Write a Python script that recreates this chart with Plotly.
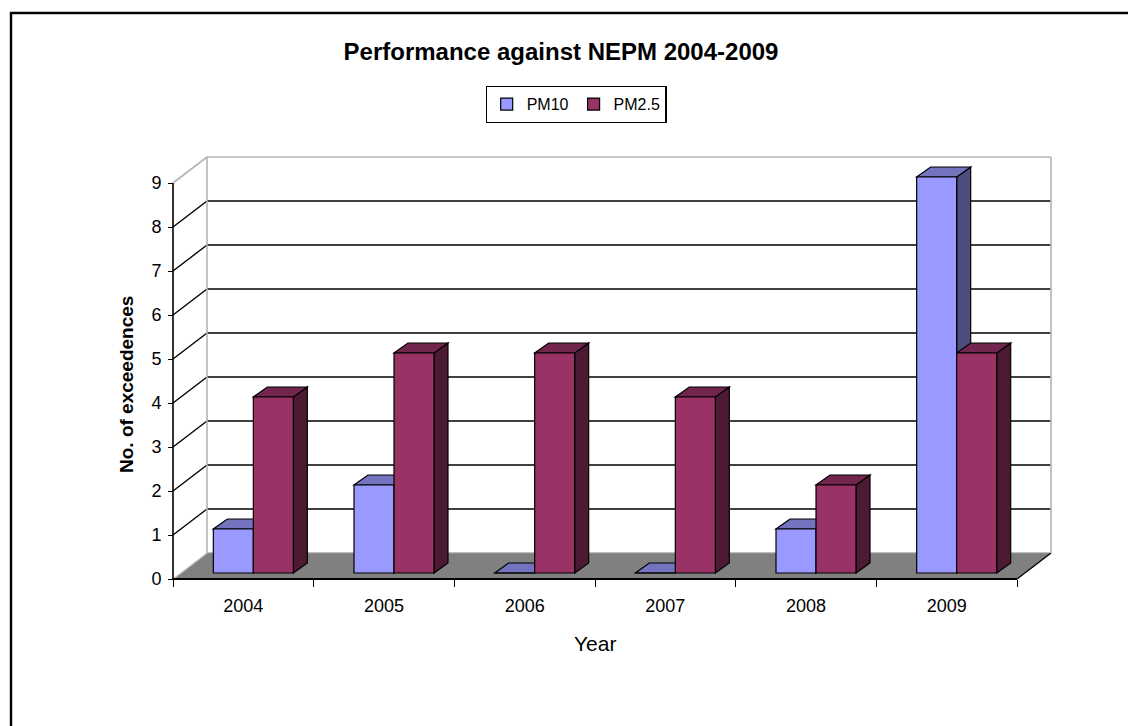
import plotly.graph_objects as go

# ---------------- data ----------------
years = [2004, 2005, 2006, 2007, 2008, 2009]
pm10 = [1, 2, 0, 0, 1, 9]
pm25 = [4, 5, 5, 4, 2, 5]
y_ticks = [0, 1, 2, 3, 4, 5, 6, 7, 8, 9]
series_names = ["PM10", "PM2.5"]
chart_title = "Performance against NEPM 2004-2009"
x_title = "Year"
y_title = "No. of exceedences"

# ---------------- geometry (pixels) ----------------
W, H = 1128, 726
PL, PR, PT, PB = 160, 1062, 148, 592          # plot area
FX0, FX1 = 173, 1017                           # front x extent
FY0, FY9 = 579, 183                            # front y of 0 and of top tick
XPX = (FX1 - FX0) / len(years)
YPX = (FY0 - FY9) / (y_ticks[-1] - y_ticks[0])


def ux(px):
    return px / XPX


def uy(px):
    return px / YPX


def pxx(px):
    return (px - PL) / (PR - PL)


def pyy(py):
    return (PB - py) / (PB - PT)


XL = years[0] - 0.5
XR = years[-1] + 0.5
YT = y_ticks[-1]
x_range = [XL - ux(FX0 - PL), XL + ux(PR - FX0)]
y_range = [-uy(PB - FY0), uy(FY0 - PT)]

WDX, WDY = ux(34), uy(26)      # wall depth
BW = ux(40)                    # bar width
BDX, BDY = ux(14), uy(10)      # bar depth
BFX, BFY = ux(10), uy(6)       # bar front offset from front plane

colors = {
    "PM10": ("#9999FF", "#7373BF", "#4D4D80"),
    "PM2.5": ("#993366", "#73264D", "#4D1A33"),
}
GRAY = "#B4B4B4"

shapes = []


def line(x0, y0, x1, y1, color, width, layer="between"):
    shapes.append(dict(type="line", xref="x", yref="y", x0=x0, y0=y0, x1=x1, y1=y1,
                       line=dict(color=color, width=width), layer=layer))


def poly(pts, fill, lc="black", lw=1.2, layer="between"):
    d = "M " + " L ".join(f"{a},{b}" for a, b in pts) + " Z"
    shapes.append(dict(type="path", xref="x", yref="y", path=d, fillcolor=fill,
                       line=dict(color=lc, width=lw), layer=layer))


# outer chart border: only its left and top edges fall inside the picture
shapes.append(dict(type="rect", xref="paper", yref="paper",
                   x0=pxx(11), y0=pyy(13), x1=pxx(W + 40), y1=pyy(H + 40),
                   line=dict(color="black", width=2.4), fillcolor="rgba(0,0,0,0)",
                   layer="below"))

# floor
poly([(XL, 0), (XR, 0), (XR + WDX, WDY), (XL + WDX, WDY)], "#808080", lc="#808080", lw=0.5)
line(XL + WDX, WDY, XR + WDX, WDY, "#9A9A9A", 1)
line(XL, 0, XL + WDX, WDY, "#D0D0D0", 1.2)
line(XR, 0, XR + WDX, WDY, "black", 1.3)

# back wall gridlines and side-wall diagonals
for v in y_ticks[1:-1]:
    line(XL + WDX, v + WDY, XR + WDX, v + WDY, "black", 1.4)
    line(XL, v, XL + WDX, v + WDY, "black", 1.4)

# back wall outline
line(XL + WDX, WDY, XL + WDX, YT + WDY, GRAY, 1.6)
line(XL + WDX, YT + WDY, XR + WDX, YT + WDY, GRAY, 1.6)
line(XR + WDX, WDY, XR + WDX, YT + WDY, GRAY, 1.6)
line(XL, YT, XL + WDX, YT + WDY, GRAY, 1.6)

# bar faces (top and side), drawn beneath the bar traces
offsets = {"PM10": BFX - BW, "PM2.5": BFX}
series_vals = {"PM10": pm10, "PM2.5": pm25}
for i, yr in enumerate(years):
    for name in series_names:
        v = series_vals[name][i]
        front, top, side = colors[name]
        x0 = yr + offsets[name]
        x1 = x0 + BW
        yb = BFY
        yt = BFY + v
        poly([(x1, yb), (x1, yt), (x1 + BDX, yt + BDY), (x1 + BDX, yb + BDY)], side)
        poly([(x0, yt), (x1, yt), (x1 + BDX, yt + BDY), (x0 + BDX, yt + BDY)], top)

# front axis lines
line(XL, 0, XL, YT, "black", 1.6, layer="above")
line(XL, 0, XR, 0, "black", 2, layer="above")

fig = go.Figure()
for name in series_names:
    front = colors[name][0]
    fig.add_trace(go.Bar(
        x=years, y=series_vals[name], base=BFY, name=name,
        offset=offsets[name], width=BW,
        marker=dict(color=front, line=dict(color="black", width=1.2)),
    ))

FONT = "Arial, Liberation Sans, sans-serif"
fig.update_layout(
    width=W, height=H, autosize=False,
    margin=dict(l=PL, r=W - PR, t=PT, b=H - PB, pad=0),
    paper_bgcolor="white", plot_bgcolor="white",
    barmode="overlay",
    font=dict(family=FONT, color="black", size=17),
    title=dict(text=f"<b>{chart_title}</b>", xref="container", yref="container",
               x=561 / W, y=1 - 52 / H, xanchor="center", yanchor="middle",
               font=dict(size=24, family=FONT, color="black")),
    xaxis=dict(range=x_range, domain=[0, 1], anchor="free", position=pyy(FY0),
               tickvals=years, ticktext=[str(y) for y in years], ticks="",
               showgrid=False, zeroline=False, showline=False,
               tickfont=dict(size=18), ticklabelstandoff=14,
               minor=dict(tickvals=[y - 0.5 for y in years] + [years[-1] + 0.5],
                          ticks="outside", ticklen=7, tickwidth=1.3, tickcolor="black",
                          showgrid=False)),
    yaxis=dict(range=y_range, domain=[0, 1], anchor="free", position=pxx(FX0),
               tickvals=y_ticks, ticks="outside", ticklen=5, tickwidth=1.3, tickcolor="black",
               showgrid=False, zeroline=False, showline=False,
               tickfont=dict(size=18), ticklabelstandoff=3),
    legend=dict(orientation="h", x=pxx(576), xanchor="center", y=pyy(86), yanchor="top",
                bordercolor="black", borderwidth=1.2, bgcolor="white",
                font=dict(size=16, family=FONT), itemwidth=30, traceorder="normal"),
    shapes=shapes,
    annotations=[
        dict(text=x_title, xref="paper", yref="paper", x=pxx(595), y=pyy(643),
             xanchor="center", yanchor="middle", showarrow=False,
             font=dict(size=21, family=FONT)),
        dict(text=f"<b>{y_title}</b>", xref="paper", yref="paper", x=pxx(126), y=pyy(385),
             xanchor="center", yanchor="middle", showarrow=False, textangle=-90,
             font=dict(size=19, family=FONT)),
    ],
    showlegend=True,
)

fig.write_html("out.html")
